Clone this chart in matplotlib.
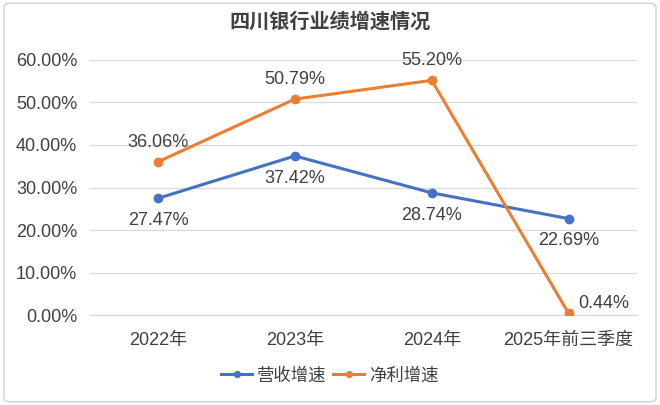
import matplotlib.pyplot as plt
from matplotlib.patches import FancyBboxPatch
from matplotlib.ticker import FuncFormatter

plt.rcParams['font.family'] = ['Liberation Sans', 'Noto Sans CJK SC']

categories = ['2022年', '2023年', '2024年', '2025年前三季度']
revenue_growth = [27.47, 37.42, 28.74, 22.69]
profit_growth = [36.06, 50.79, 55.20, 0.44]
blue = '#4472C4'
orange = '#ED7D31'
txt = '#404040'

fig = plt.figure(figsize=(6.6, 4.05), dpi=100)
ax = fig.add_axes([0.136, 0.222, 0.829, 0.630])

x = list(range(len(categories)))
ax.plot(x, revenue_growth, color=blue, lw=2.2, marker='o', ms=6, label='营收增速', zorder=3)
ax.plot(x, profit_growth, color=orange, lw=2.2, marker='o', ms=6, label='净利增速', zorder=3)

for i, v in enumerate(revenue_growth):
    ax.annotate(f'{v:.2f}%', (i, v), xytext=(0, -10), textcoords='offset points',
                ha='center', va='top', fontsize=13, color=txt)
for i, v in enumerate(profit_growth):
    if i == len(profit_growth) - 1:
        ax.annotate(f'{v:.2f}%', (i, v), xytext=(7, 1), textcoords='offset points',
                    ha='left', va='bottom', fontsize=13, color=txt)
    else:
        ax.annotate(f'{v:.2f}%', (i, v), xytext=(0, 8), textcoords='offset points',
                    ha='center', va='bottom', fontsize=13, color=txt)

ax.set_xlim(-0.5, len(categories) - 0.5)
ax.set_ylim(0, 60)
ax.set_yticks(range(0, 61, 10))
ax.yaxis.set_major_formatter(FuncFormatter(lambda v, p: f'{v:.2f}%'))
ax.set_xticks(x)
ax.set_xticklabels(categories)
ax.tick_params(length=0, labelsize=13, colors=txt)
ax.tick_params(axis='x', pad=12)
ax.tick_params(axis='y', pad=9)
ax.grid(axis='y', color='#D9D9D9', lw=0.9)
ax.set_axisbelow(True)
for s in ax.spines.values():
    s.set_visible(False)
ax.spines['bottom'].set_visible(True)
ax.spines['bottom'].set_color('#D9D9D9')

fig.text(0.5, 0.945, '四川银行业绩增速情况', ha='center', va='center',
         fontsize=14.5, fontweight='bold', color=txt)
fig.legend(loc='center', bbox_to_anchor=(0.5, 0.074), ncol=2, frameon=False,
           fontsize=12.5, labelcolor=txt, handlelength=1.75, handletextpad=0.3,
           columnspacing=0.4, markerscale=0.7)

fig.patches.append(FancyBboxPatch((0.006, 0.008), 0.988, 0.984, boxstyle='round,pad=0,rounding_size=0.01',
                                  transform=fig.transFigure, fill=False, ec='#D0D0D0', lw=1))

fig.savefig('out.png', dpi=100)
